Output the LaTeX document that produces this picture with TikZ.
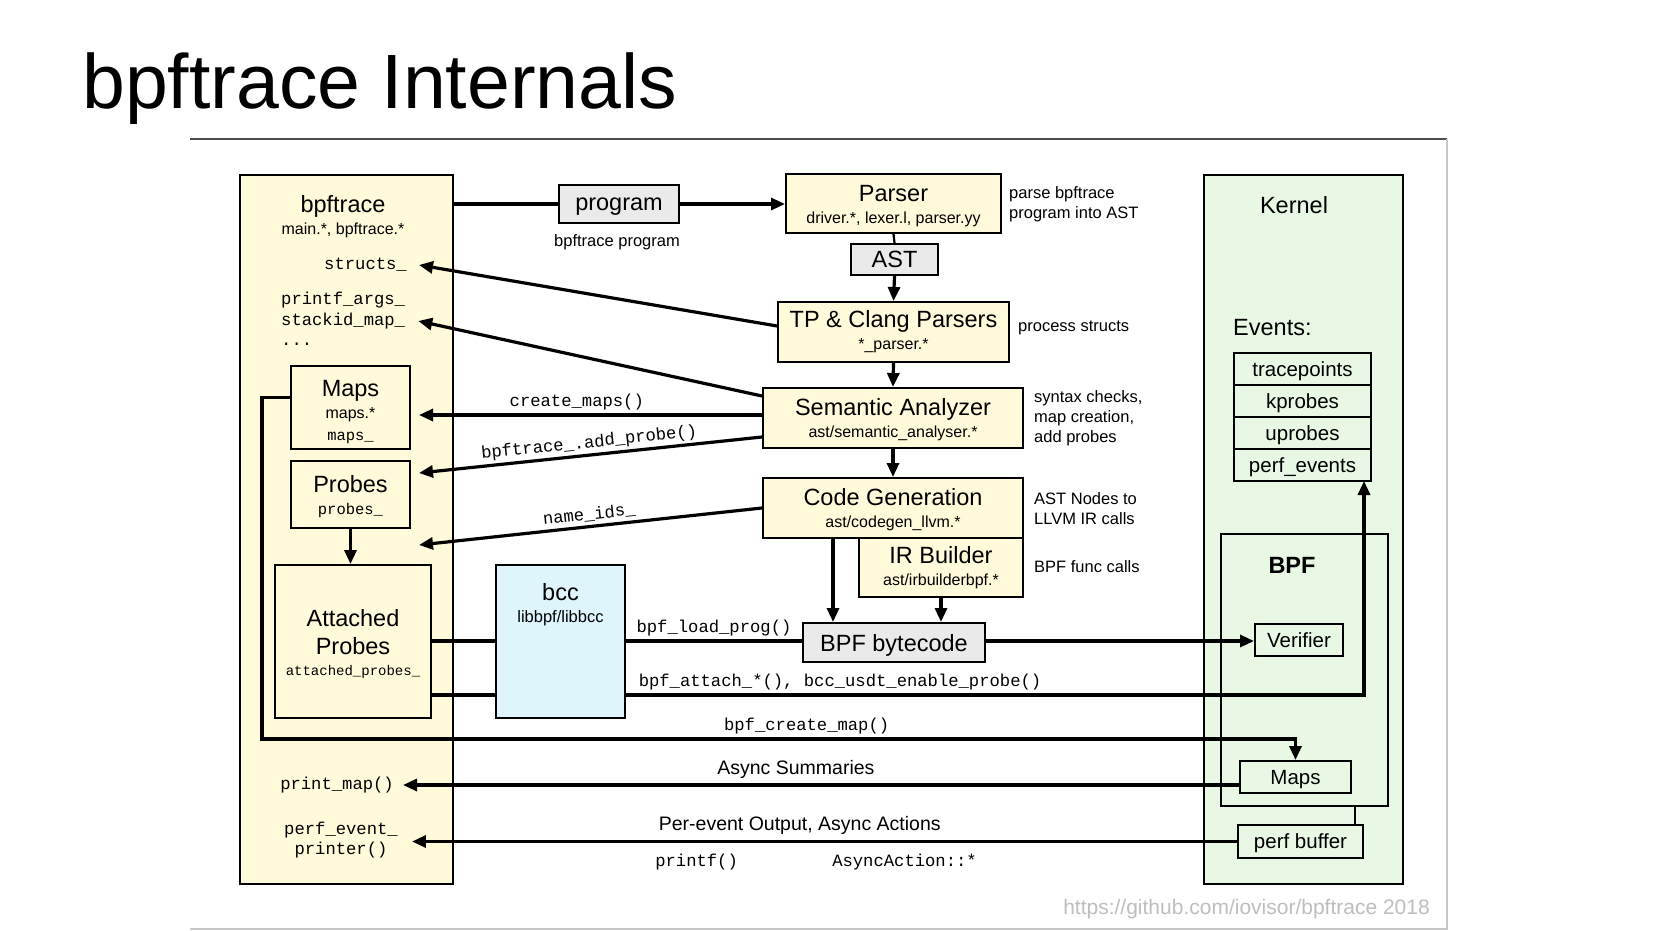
\documentclass[tikz,border=0pt]{standalone}
\usepackage{fontspec}
\setmainfont{Liberation Sans}
\setmonofont{Liberation Mono}
\usepackage{xcolor}
\usepackage{tikz}
\usetikzlibrary{arrows.meta, calc}
\definecolor{NoteCream}{RGB}{255, 250, 218}
\definecolor{KernelGreen}{RGB}{232, 248, 228}
\definecolor{BccBlue}{RGB}{222, 245, 252}
\definecolor{BoxGray}{RGB}{234, 234, 234}
\definecolor{FrameGray}{RGB}{200, 200, 200}
\definecolor{UrlGray}{RGB}{190, 190, 190}
\newcommand{\hdfont}{\fontsize{23.5}{28}\selectfont}
\newcommand{\smfont}{\fontsize{16}{22}\selectfont}
\newcommand{\ntfont}{\fontsize{16.5}{20}\selectfont}
\newcommand{\cdfont}{\fontsize{17.2}{20}\selectfont\ttfamily}
\newcommand{\cdsmall}{\fontsize{15.5}{20}\selectfont\ttfamily}
\newcommand{\evfont}{\fontsize{20.5}{22}\selectfont}
\newcommand{\lnfont}{\fontsize{19.5}{22}\selectfont}
\newcommand{\tstrut}[1][21pt]{\rule{0pt}{#1}}

\begin{document}
\begin{tikzpicture}[x=1pt, y=-1pt,
    cbox/.style={draw=black, line width=2pt, fill=NoteCream, inner sep=0pt, align=center},
    graybox/.style={cbox, fill=BoxGray, text depth=0pt},
    kcell/.style={draw=black, line width=2pt, inner sep=0pt, minimum height=32pt, text depth=0pt, font=\evfont},
    conn/.style={line width=3.2pt, -{Triangle[length=14pt, width=12pt]}},
    wire/.style={line width=3.2pt},
    memb/.style={font=\cdfont, inner sep=0pt, align=center},
    note/.style={font=\ntfont, align=left, anchor=west, inner sep=0pt}]

    % page and frame
    \path[use as bounding box, fill=white] (0,0) rectangle (1654,931);
    \node[anchor=base west, inner sep=0pt, font=\fontsize{77}{80}\selectfont] (title) at (82,109) {bpftrace Internals};
    \draw[line width=1.4pt, black!70] (190,139) -- (1447,139);
    \draw[line width=1.2pt, FrameGray] (1447,139) -- (1447,929) -- (190,929);
    \node[anchor=east, inner sep=0pt, text=UrlGray, font=\fontsize{21}{24}\selectfont] (srcurl) at (1430,909) {https://github.com/iovisor/bpftrace 2018};

    % bpftrace (user space)
    \node[cbox, minimum width=213pt, minimum height=709pt] (bpfbox) at (346,529.5) {};
    \node[font=\smfont, align=center] (bpfttl) at (343,217) {{\hdfont bpftrace}\\main.*, bpftrace.*};
    \node[memb, anchor=east] (structs) at (407,265) {structs\_};
    \node[memb, anchor=west] (printfargs) at (281,300) {printf\_args\_};
    \node[memb, anchor=west] (stackid) at (281,321) {stackid\_map\_};
    \node[memb, anchor=west] (moremembs) at (281,344) {...};
    \node[cbox, minimum width=119pt, minimum height=83pt, font=\smfont] (lmaps) at (350.5,407.5) {{\hdfont\tstrut[25pt]Maps}\\maps.*\\{\cdsmall maps\_}};
    \node[cbox, minimum width=119pt, minimum height=67pt, font=\smfont] (lprobes) at (350.5,494.5) {{\hdfont\tstrut Probes}\\{\cdsmall probes\_}};
    \node[cbox, minimum width=156pt, minimum height=153pt, font=\hdfont] (attp) at (353,641.5) {\tstrut Attached\\Probes\\[-7pt]{\fontsize{14}{16}\selectfont\ttfamily attached\_probes\_}};
    \node[memb, anchor=east] (printmap) at (394,785) {print\_map()};
    \node[memb] (perfprint) at (341,840) {perf\_event\_\\printer()};

    % bcc
    \node[cbox, fill=BccBlue, minimum width=129pt, minimum height=153pt] (bcc) at (560.5,641.5) {};
    \node[font=\fontsize{16.5}{22}\selectfont, align=center] (bccttl) at (560.5,605) {{\hdfont bcc}\\libbpf/libbcc};

    % compile pipeline
    \node[graybox, minimum width=120pt, minimum height=38pt, font=\hdfont] (prog) at (619,204) {program};
    \node[font=\ntfont] (progcap) at (617,242) {bpftrace program};
    \node[cbox, minimum width=215pt, minimum height=59pt, font=\smfont] (parser) at (893.5,203.5) {{\hdfont\tstrut Parser}\\driver.*, lexer.l, parser.yy};
    \node[graybox, minimum width=87pt, minimum height=31pt, font=\hdfont] (ast) at (894.5,259.5) {AST};
    \node[cbox, minimum width=231pt, minimum height=60pt, font=\smfont] (tp) at (893.5,332) {{\hdfont TP \& Clang Parsers}\\*\_parser.*};
    \node[cbox, minimum width=260pt, minimum height=60pt, font=\smfont] (sem) at (893,418) {{\hdfont\tstrut Semantic Analyzer}\\ast/semantic\_analyser.*};
    \node[cbox, minimum width=260pt, minimum height=60pt, font=\smfont] (cg) at (893,508) {{\hdfont\tstrut Code Generation}\\ast/codegen\_llvm.*};
    \node[cbox, minimum width=164pt, minimum height=59pt, font=\smfont] (irb) at (941,567.5) {{\hdfont IR Builder}\\ast/irbuilderbpf.*};
    \node[graybox, minimum width=182pt, minimum height=39pt, font=\hdfont] (bc) at (894,642.5) {BPF bytecode};

    \node[note] (parsenote) at (1009,204) {parse bpftrace\\program into AST};
    \node[note] (tpnote) at (1018,328) {process structs};
    \node[note] (semnote) at (1034,418) {syntax checks,\\map creation,\\add probes};
    \node[note] (cgnote) at (1034,509) {AST Nodes to\\LLVM IR calls};
    \node[note] (irbnote) at (1034,567) {BPF func calls};

    % kernel
    \node[cbox, fill=KernelGreen, minimum width=199pt, minimum height=709pt] (kbox) at (1303.5,529.5) {};
    \node[font=\hdfont] (kttl) at (1294,205) {Kernel};
    \node[font=\hdfont, anchor=west, inner sep=0pt] (evttl) at (1233,328) {Events:};
    \foreach \nm [count=\i] in {tracepoints, kprobes, uprobes, perf\_events}
      \node[kcell, minimum width=137pt] (ev\i) at (1302.5,337+32*\i) {\nm};
    \node[draw=black, line width=2pt, minimum width=167pt, minimum height=272pt] (kbpf) at (1304.5,670) {};
    \node[font=\hdfont\bfseries] (bpfttl2) at (1292,565) {BPF};
    \node[kcell, minimum width=88pt] (ver) at (1299,640) {Verifier};
    \node[kcell, minimum width=111pt] (kmaps) at (1295.5,777) {Maps};
    \node[kcell, minimum width=125pt, minimum height=33pt] (pbuf) at (1300.5,841.5) {perf buffer};
    \draw[line width=2.2pt] ([xshift=-9pt]pbuf.north east) -- ([xshift=-9pt]pbuf.north east |- kbpf.south);

    % named points for connector ends
    \coordinate (cmtip) at (419,415);
    \coordinate (aptip) at (419,473);
    \coordinate (nitip) at (419,545);
    \coordinate (cgout) at (833,538);
    \coordinate (yload) at (0,641);
    \coordinate (yatt) at (0,695);
    \coordinate (evtip) at (1364,481);
    \coordinate (cmleft) at (262,739);

    % program flow
    \draw[wire] (bpfbox.east |- prog.west) -- (prog.west);
    \draw[conn] (prog.east) -- (parser.west |- prog.east);
    \draw[line width=2.2pt] (parser.south) -- (ast.north);
    \draw[conn] (ast.south) -- (tp.north);
    \draw[conn] (tp.south) -- (sem.north);
    \draw[conn] (sem.south) -- (cg.north);
    \draw[conn] (cgout) -- (cgout |- bc.north);
    \draw[conn] (irb.south) -- (irb.south |- bc.north);

    % results handed back to bpftrace
    \draw[conn] ([yshift=6pt]tp.west) -- ([xshift=12pt]structs.east);
    \draw[conn] ([yshift=-9pt]sem.north west) -- ([xshift=13pt]stackid.east);
    \draw[conn] (sem.west |- cmtip) -- node[pos=0.54, above, font=\cdfont] {create\_maps()} (cmtip);
    \draw[conn] ([yshift=-19pt]sem.west) -- node[above=-1pt, sloped, font=\cdfont] {bpftrace\_.add\_probe()} (aptip);
    \draw[conn] (cg.west) -- node[above, sloped, font=\cdfont] {name\_ids\_} (nitip);
    \draw[conn] (lprobes.south) -- (lprobes.south |- attp.north);

    % load and attach
    \draw[wire] (attp.east |- yload) -- (bcc.west |- yload);
    \draw[wire] (bcc.east |- yload) -- node[above, font=\cdfont] {bpf\_load\_prog()} (bc.west |- yload);
    \draw[conn] (bc.east |- yload) -- (ver.west |- yload);
    \draw[wire] (attp.east |- yatt) -- (bcc.west |- yatt);
    \draw[conn] (bcc.east |- yatt) -- node[pos=0.29, above, font=\cdfont] {bpf\_attach\_*(), bcc\_usdt\_enable\_probe()} (evtip |- yatt) -- (evtip);
    \draw[conn] ([yshift=10pt]lmaps.west) -| (cmleft) -- node[pos=0.527, above, font=\cdfont] {bpf\_create\_map()} (kmaps.north |- cmleft) -- (kmaps.north);

    % output back to user space
    \draw[conn] ([yshift=-8pt]kmaps.west) -- node[pos=0.53, above, yshift=2pt, font=\lnfont] {Async Summaries} ([xshift=9pt]printmap.east);
    \draw[conn] (pbuf.west) -- node[pos=0.53, above, yshift=2pt, font=\lnfont] {Per-event Output, Async Actions}
      node[pos=0.655, below, yshift=-8pt, font=\cdfont] {printf()}
      node[pos=0.403, below, yshift=-8pt, font=\cdfont] {AsyncAction::*} ([xshift=14pt]perfprint.east |- pbuf.west);
\end{tikzpicture}
\end{document}
